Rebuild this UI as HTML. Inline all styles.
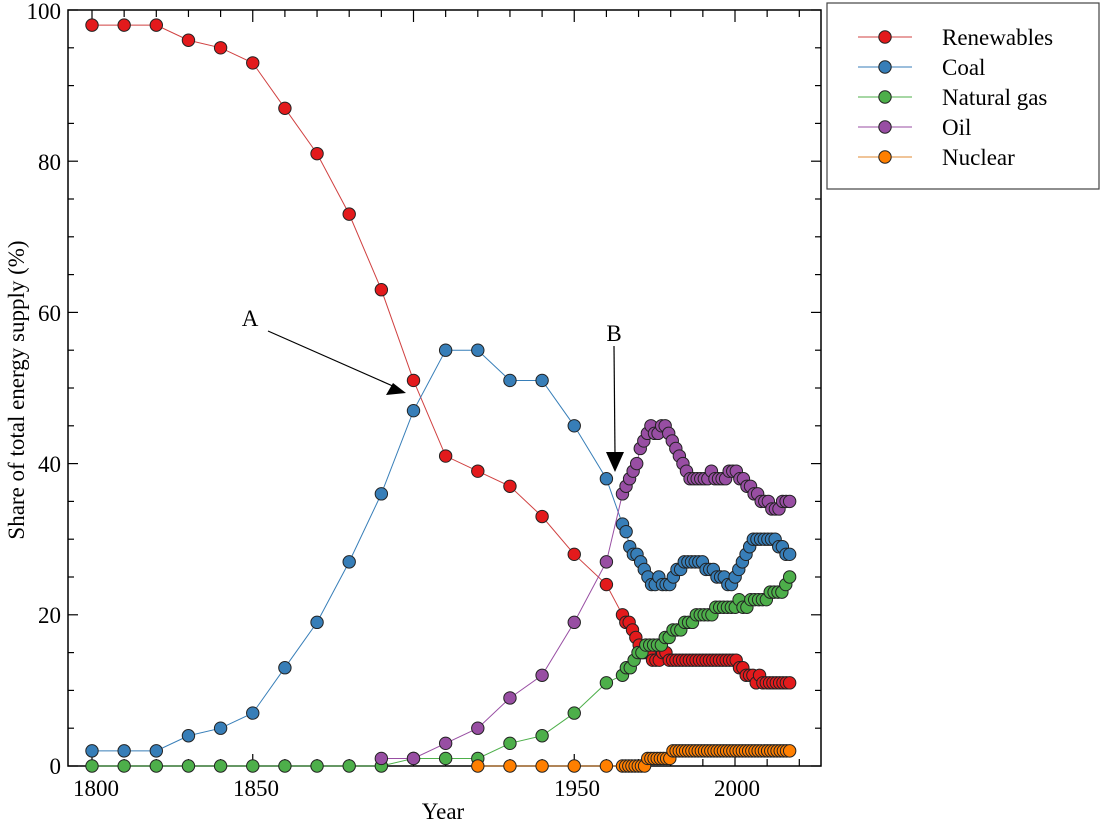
<!DOCTYPE html>
<html><head><meta charset="utf-8"><style>
html,body{margin:0;padding:0;background:#fff;}
svg, svg text{font-family:"Liberation Serif","DejaVu Serif",serif;}
</style></head><body>
<svg id="s" width="1102" height="827" xmlns="http://www.w3.org/2000/svg" font-family="Liberation Serif, serif">
<rect x="0" y="0" width="1102" height="827" fill="#fff"/>
<g id="ticks"></g>
<rect x="68" y="10" width="753" height="756" fill="none" stroke="#000" stroke-width="1.5"/>
<g id="series"></g>
<g font-size="23" fill="#000" font-family="Liberation Serif, serif">
<text x="61" y="774" text-anchor="end">0</text>
<text x="61" y="623" text-anchor="end">20</text>
<text x="61" y="472" text-anchor="end">40</text>
<text x="61" y="321" text-anchor="end">60</text>
<text x="61" y="170" text-anchor="end">80</text>
<text x="61" y="19" text-anchor="end">100</text>
<text x="96" y="796" text-anchor="middle">1800</text>
<text x="256" y="796" text-anchor="middle">1850</text>
<text x="577" y="796" text-anchor="middle">1950</text>
<text x="737" y="796" text-anchor="middle">2000</text>
<text x="443" y="819" text-anchor="middle">Year</text>
<text transform="translate(24,390) rotate(-90)" text-anchor="middle">Share of total energy supply (%)</text>
<text x="250" y="326" text-anchor="middle">A</text>
<text x="614" y="341" text-anchor="middle">B</text>
</g>
<line x1="268" y1="331" x2="395" y2="387" stroke="#000" stroke-width="1.2"/>
<polygon points="406,393 386,395 393,383" fill="#000"/>
<line x1="614" y1="346" x2="615" y2="455" stroke="#000" stroke-width="1.2"/>
<polygon points="615,472 606,452 624,452" fill="#000"/>
<rect x="827" y="3" width="272" height="186" fill="#fff" stroke="#444" stroke-width="1.2"/>
<g id="legend" font-size="23" font-family="Liberation Serif, serif"></g>
</svg>
<script>
var NS="http://www.w3.org/2000/svg";
function el(p,t,a){var e=document.createElementNS(NS,t);for(var k in a)e.setAttribute(k,a[k]);p.appendChild(e);return e;}
function X(y){return 92+(y-1800)*3.215;}
function Y(v){return 766-v*7.56;}
var tk=document.getElementById('ticks');
for(var v=0;v<=100;v+=5){var L=v%20==0?10:6;var y=Y(v);
 el(tk,'line',{x1:68,y1:y,x2:68+L,y2:y,stroke:'#000','stroke-width':1.2});
 el(tk,'line',{x1:821,y1:y,x2:821-L,y2:y,stroke:'#000','stroke-width':1.2});}
for(var yr=1800;yr<=2020;yr+=10){var L=yr%50==0?12:7;var x=X(yr);
 el(tk,'line',{x1:x,y1:766,x2:x,y2:766-L,stroke:'#000','stroke-width':1.2});
 el(tk,'line',{x1:x,y1:10,x2:x,y2:10+L,stroke:'#000','stroke-width':1.2});}
var dec=[];for(var y=1800;y<=1960;y+=10)dec.push(y);
var ser=[
{n:'Renewables',c:'#e31a1c',l:'#d04040',d:[98,98,98,96,95,93,87,81,73,63,51,41,39,37,33,28,24],
 y:[20,19,19,18,17,16,15,15,15,14,14,14,15,15,14,14,14,14,14,14,14,14,14,14,14,14,14,14,14,14,14,14,14,14,14,13,13,12,12,12,11,12,11,11,11,11,11,11,11,11,11]},
{n:'Coal',c:'#377eb8',l:'#377eb8',d:[2,2,2,4,5,7,13,19,27,36,47,55,55,51,51,45,38],
 y:[32,31,29,28,28,27,26,25,24,24,25,24,24,24,25,26,26,27,27,27,27,27,27,26,26,26,25,25,25,24,24,25,26,27,28,29,30,30,30,30,30,30,30,29,29,28,28]},
{n:'Natural gas',c:'#4daf4a',l:'#4daf4a',d:[0,0,0,0,0,0,0,0,0,0,1,1,1,3,4,7,11],
 y:[12,13,13,14,15,15,16,16,16,16,16,17,17,18,18,18,19,19,19,20,20,20,20,20,21,21,21,21,21,21,22,21,21,22,22,22,22,22,23,23,23,23,24,25]},
{n:'Oil',c:'#984ea3',l:'#984ea3',d:[null,null,null,null,null,null,null,null,null,1,1,3,5,9,12,19,27],
 y:[36,37,38,39,40,42,43,44,45,44,44,45,45,44,43,42,41,40,39,38,38,38,38,38,38,39,38,38,38,38,39,39,39,38,38,37,37,36,36,35,35,35,34,34,34,35,35,35]},
{n:'Nuclear',c:'#ff7f00',l:'#e08a30',d:[null,null,null,null,null,null,null,null,null,null,null,null,0,0,0,0,0],
 y:[0,0,0,0,0,0,0,0,1,1,1,1,1,1,1,1,2,2,2,2,2,2,2,2,2,2,2,2,2,2,2,2,2,2,2,2,2,2,2,2,2,2,2,2,2,2,2,2,2,2,2,2,2,2]}
];
var g=document.getElementById('series');
ser.forEach(function(s){
 var pts=[];
 s.d.forEach(function(v,i){if(v!==null)pts.push([X(dec[i]),Y(v)]);});
 var step=(2017-1965)/(s.y.length-1);
 s.y.forEach(function(v,i){pts.push([X(1965+i*step),Y(v)]);});
 el(g,'polyline',{points:pts.map(function(p){return p.join(',')}).join(' '),fill:'none',stroke:s.l,'stroke-width':1});
 pts.forEach(function(p){el(g,'circle',{cx:p[0],cy:p[1],r:6.2,fill:s.c,stroke:'#222','stroke-width':1});});
});
var lg=document.getElementById('legend');
ser.forEach(function(s,i){var y=37+30*i;
 el(lg,'line',{x1:858,y1:y,x2:912,y2:y,stroke:s.l,'stroke-width':1});
 el(lg,'circle',{cx:885,cy:y,r:6.2,fill:s.c,stroke:'#222','stroke-width':1});
 var t=el(lg,'text',{x:942,y:y+8});t.textContent=s.n;});
</script>
</body></html>
